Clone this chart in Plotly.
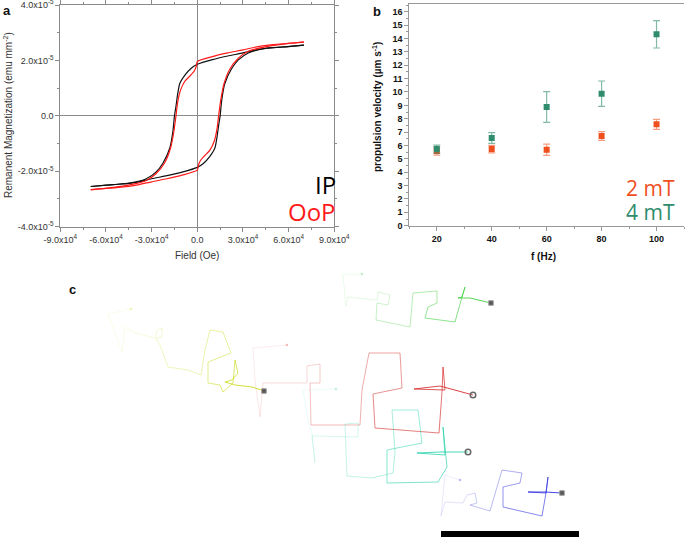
import plotly.graph_objects as go

# ---------------- Panel a: hysteresis loops (field in 1e4 Oe, M in 1e-5 emu mm^-2)
ip_desc_field = [7, 6, 5, 4, 3, 2, 1, 0, -0.4, -0.8, -1.15, -1.3, -1.4, -1.5, -1.6, -1.8, -2.25, -2.7, -3.35, -4.45, -5.5, -7]
ip_desc_m = [2.55, 2.50, 2.46, 2.40, 2.27, 2.16, 2.03, 1.86, 1.72, 1.48, 1.17, 0.75, 0.35, 0.0, -0.55, -1.15, -1.70, -2.02, -2.27, -2.43, -2.48, -2.55]
ip_asc_field = [-7, -6, -5, -4, -3, -2, -1, 0, 0.4, 0.8, 1.15, 1.3, 1.4, 1.5, 1.6, 1.8, 2.25, 2.7, 3.35, 4.45, 5.5, 7]
ip_asc_m = [-2.55, -2.50, -2.46, -2.40, -2.27, -2.16, -2.03, -1.86, -1.72, -1.48, -1.17, -0.75, -0.35, 0.0, 0.55, 1.15, 1.70, 2.02, 2.27, 2.43, 2.48, 2.55]

oop_desc_field = [7, 6, 5, 4, 3, 2, 1, 0, -0.07, -0.2, -0.5, -0.83, -1.12, -1.3, -1.4, -1.55, -1.75, -2.15, -2.7, -3.35, -4.45, -5.5, -7]
oop_desc_m = [2.66, 2.62, 2.57, 2.50, 2.38, 2.27, 2.14, 1.96, 1.78, 1.62, 1.43, 1.24, 0.90, 0.45, 0.0, -0.6, -1.15, -1.70, -2.08, -2.33, -2.49, -2.58, -2.67]
oop_asc_field = [-7, -6, -5, -4, -3, -2, -1, 0, 0.07, 0.2, 0.5, 0.83, 1.12, 1.3, 1.4, 1.55, 1.75, 2.15, 2.7, 3.35, 4.45, 5.5, 7]
oop_asc_m = [-2.66, -2.62, -2.57, -2.50, -2.38, -2.27, -2.14, -1.96, -1.78, -1.62, -1.43, -1.24, -0.90, -0.45, 0.0, 0.6, 1.15, 1.70, 2.08, 2.33, 2.49, 2.58, 2.67]

a_xtick_vals = [-9, -6, -3, 0, 3, 6, 9]
a_xtick_text = ["-9.0x10<sup>4</sup>", "-6.0x10<sup>4</sup>", "-3.0x10<sup>4</sup>", "0.0",
                "3.0x10<sup>4</sup>", "6.0x10<sup>4</sup>", "9.0x10<sup>4</sup>"]
a_ytick_vals = [-4, -2, 0, 2, 4]
a_ytick_text = ["-4.0x10<sup>-5</sup>", "-2.0x10<sup>-5</sup>", "0.0", "2.0x10<sup>-5</sup>", "4.0x10<sup>-5</sup>"]

# ---------------- Panel b: propulsion velocity
freq_hz = [20, 40, 60, 80, 100]
v_2mT = [5.58, 5.73, 5.68, 6.71, 7.58]
err_2mT = [0.30, 0.28, 0.42, 0.33, 0.37]
v_4mT = [5.73, 6.56, 8.87, 9.87, 14.31]
err_4mT = [0.30, 0.40, 1.15, 0.95, 1.02]

# ---------------- Panel c: trajectories (image pixel coordinates)
traj_yellow_x = [131, 108, 122, 125, 135, 155, 157, 162, 162, 156, 160, 168, 188, 201, 205, 210, 223, 231, 208, 208, 220, 223, 233, 235, 238, 232, 225, 235, 252, 264]
traj_yellow_y = [309, 314, 352, 327, 333, 338, 330, 328, 337, 338, 345, 367, 370, 375, 350, 330, 332, 353, 362, 383, 385, 392, 383, 360, 373, 380, 382, 385, 387, 391]

traj_green_x = [362, 343, 346, 348, 377, 378, 390, 388, 377, 376, 410, 413, 437, 437, 428, 425, 455, 462, 465, 462, 458, 470, 491]
traj_green_y = [274, 275, 306, 297, 300, 292, 295, 305, 303, 320, 327, 293, 291, 303, 307, 318, 322, 297, 287, 297, 298, 298, 303]

traj_red_x = [287, 253, 255, 260, 263, 307, 307, 320, 320, 310, 311, 360, 362, 369, 400, 402, 373, 375, 439, 442, 443, 445, 414, 440, 473]
traj_red_y = [345, 348, 380, 417, 383, 383, 366, 364, 383, 383, 425, 425, 390, 353, 353, 388, 394, 428, 433, 392, 367, 390, 389, 386, 395]

traj_teal_x = [336, 303, 308, 312, 315, 312, 358, 358, 345, 347, 372, 393, 395, 392, 418, 422, 387, 387, 438, 447, 443, 445, 417, 440, 468]
traj_teal_y = [389, 390, 420, 434, 463, 436, 437, 423, 424, 476, 478, 473, 452, 410, 410, 443, 450, 483, 482, 467, 427, 455, 453, 452, 452]

traj_blue_x = [460, 445, 441, 445, 463, 467, 475, 477, 470, 490, 502, 522, 520, 503, 503, 542, 546, 548, 546, 528, 545, 562]
traj_blue_y = [480, 475, 516, 502, 503, 495, 493, 503, 505, 511, 470, 473, 483, 487, 507, 516, 493, 477, 493, 492, 492, 493]

scale_bar_x = [441, 579]
scale_bar_y = [534, 534]

W, H = 685, 538


def fx(p):
    return p / W


def fy(p):
    return 1 - p / H


fig = go.Figure()

# ---- panel a traces
for xs, ys, col in [(ip_desc_field, ip_desc_m, "#111111"), (ip_asc_field, ip_asc_m, "#111111"),
                    (oop_desc_field, oop_desc_m, "#ff1a1a"), (oop_asc_field, oop_asc_m, "#ff1a1a")]:
    fig.add_trace(go.Scatter(x=xs, y=ys, mode="lines", line=dict(color=col, width=1.2, shape="spline", smoothing=0.6),
                             xaxis="x", yaxis="y", showlegend=False, hoverinfo="skip"))

# ---- panel b traces
fig.add_trace(go.Scatter(x=freq_hz, y=v_2mT, mode="markers", xaxis="x2", yaxis="y2", showlegend=False,
                         marker=dict(symbol="square", size=6, color="#ef4f1e"),
                         error_y=dict(type="data", array=err_2mT, color="rgba(239,79,30,0.55)", thickness=1.2, width=3.5)))
fig.add_trace(go.Scatter(x=freq_hz, y=v_4mT, mode="markers", xaxis="x2", yaxis="y2", showlegend=False,
                         marker=dict(symbol="square", size=6, color="#2f8c6c"),
                         error_y=dict(type="data", array=err_4mT, color="rgba(47,140,108,0.6)", thickness=1.2, width=3.5)))

# ---- panel c traces (fading trajectories)
trajs = [
    (traj_yellow_x, traj_yellow_y, (200, 218, 20), "square"),
    (traj_green_x, traj_green_y, (60, 205, 60), "square"),
    (traj_red_x, traj_red_y, (215, 40, 40), "circle-open"),
    (traj_teal_x, traj_teal_y, (40, 210, 170), "circle-open"),
    (traj_blue_x, traj_blue_y, (45, 45, 225), "square"),
]
for xs, ys, (r, g, b), end_sym in trajs:
    n = len(xs)
    for i in range(n - 1):
        t = (i + 1) / (n - 1)
        a = 0.08 + 0.8 * t ** 1.5
        fig.add_trace(go.Scatter(x=xs[i:i + 2], y=ys[i:i + 2], mode="lines", xaxis="x3", yaxis="y3",
                                 line=dict(color=f"rgba({r},{g},{b},{a:.3f})", width=1),
                                 showlegend=False, hoverinfo="skip"))
    fig.add_trace(go.Scatter(x=[xs[0]], y=[ys[0]], mode="markers", xaxis="x3", yaxis="y3",
                             marker=dict(symbol="circle", size=2.5, color=f"rgba({r},{g},{b},0.3)"),
                             showlegend=False, hoverinfo="skip"))
    if end_sym == "square":
        mk = dict(symbol="square", size=4.5, color="#555555", line=dict(color="#999999", width=1))
    else:
        mk = dict(symbol="circle-open", size=5.5, color="#666666", line=dict(color="#666666", width=1.5))
    fig.add_trace(go.Scatter(x=[xs[-1]], y=[ys[-1]], mode="markers", xaxis="x3", yaxis="y3",
                             marker=mk, showlegend=False, hoverinfo="skip"))

fig.add_trace(go.Scatter(x=scale_bar_x, y=scale_bar_y, mode="lines", xaxis="x3", yaxis="y3",
                         line=dict(color="black", width=6), showlegend=False, hoverinfo="skip"))

axis_common_a = dict(showline=True, linecolor="#8a8a8a", linewidth=1, mirror="ticks", ticks="outside",
                     ticklen=4, tickcolor="#8a8a8a", showgrid=False, automargin=False,
                     ticklabeloverflow="allow",
                     tickfont=dict(size=9, color="#333333", family="Liberation Sans"),
                     zeroline=True, zerolinecolor="#8a8a8a", zerolinewidth=1)

fig.update_layout(
    width=W, height=H, template="none",
    margin=dict(l=0, r=0, t=0, b=0),
    paper_bgcolor="white", plot_bgcolor="rgba(0,0,0,0)",
    font=dict(family="Liberation Sans", color="#222222"),
    showlegend=False,
    xaxis=dict(domain=[fx(60.3), fx(334.3)], range=[-9, 9], anchor="y",
               tickmode="array", tickvals=a_xtick_vals, ticktext=a_xtick_text,
               minor=dict(ticks="outside", ticklen=2, tick0=-9, dtick=1.5, tickcolor="#8a8a8a"),
               **axis_common_a),
    yaxis=dict(domain=[fy(226.7), fy(5)], range=[-4, 4], anchor="x",
               tickmode="array", tickvals=a_ytick_vals, ticktext=a_ytick_text,
               minor=dict(ticks="outside", ticklen=2, tick0=-4, dtick=1, tickcolor="#8a8a8a"),
               **axis_common_a),
    xaxis2=dict(domain=[fx(409.3), fx(684)], range=[10, 110], anchor="y2",
                tickmode="array", tickvals=freq_hz, ticktext=[f"<b>{v}</b>" for v in freq_hz],
                showline=True, linecolor="#999999", linewidth=1, mirror=True, ticks="outside",
                ticklen=4, tickcolor="#999999", showgrid=False, zeroline=False, automargin=False,
                ticklabeloverflow="allow",
                minor=dict(ticks="outside", ticklen=2, tick0=10, dtick=10, tickcolor="#999999"),
                tickfont=dict(size=9, color="#111111", family="Liberation Sans")),
    yaxis2=dict(domain=[fy(225.7), fy(4)], range=[0, 16.58], anchor="x2",
                tickmode="array", tickvals=list(range(0, 17)), ticktext=[f"<b>{v}</b>" for v in range(0, 17)],
                showline=True, linecolor="#999999", linewidth=1, mirror=False, ticks="outside",
                ticklen=4, tickcolor="#999999", showgrid=False, zeroline=False, automargin=False,
                ticklabeloverflow="allow",
                minor=dict(ticks="outside", ticklen=2, tick0=0, dtick=0.5, tickcolor="#999999"),
                tickfont=dict(size=9, color="#111111", family="Liberation Sans")),
    xaxis3=dict(domain=[0, 1], range=[0, W], anchor="y3", visible=False, showgrid=False, zeroline=False),
    yaxis3=dict(domain=[0, fy(272)], range=[H, 272], anchor="x3", visible=False, showgrid=False, zeroline=False),
)

ann = []


def add_text(text, x, y, xanchor="center", yanchor="middle", size=10, color="#222222", textangle=0,
             family="Liberation Sans"):
    ann.append(dict(text=text, x=fx(x), y=fy(y), xref="paper", yref="paper", xanchor=xanchor,
                    yanchor=yanchor, showarrow=False, textangle=textangle,
                    font=dict(size=size, color=color, family=family)))


add_text("<b>a</b>", 1, 1, "left", "top", 13, "#111111")
add_text("<b>b</b>", 371, 2, "left", "top", 13, "#111111")
add_text("<b>c</b>", 67, 280, "left", "top", 13, "#111111")
add_text("Remanent Magnetization (emu mm<sup>-2</sup>)", 8, 115, size=10, color="#333333", textangle=-90)
add_text("Field (Oe)", 197, 255, size=10, color="#333333")
add_text("IP", 313, 184, "left", "middle", 24, "#000000", family="Open Sans")
add_text("OoP", 286, 211, "left", "middle", 24, "#ff1a1a", family="Open Sans")
add_text("<b>propulsion velocity (µm s<sup>-1</sup>)</b>", 377, 107, size=10, color="#111111", textangle=-90)
add_text("<b>f (Hz)</b>", 543, 257, size=10, color="#111111")
add_text("2 mT", 624, 188, "left", "middle", 21, "#ef4f1e", family="Open Sans")
add_text("4 mT", 624, 212, "left", "middle", 21, "#2f8c6c", family="Open Sans")

fig.update_layout(annotations=ann)

fig.write_html("out.html", config={"displayModeBar": False},
               post_script="document.body.style.margin='0';document.body.style.overflow='hidden';")
